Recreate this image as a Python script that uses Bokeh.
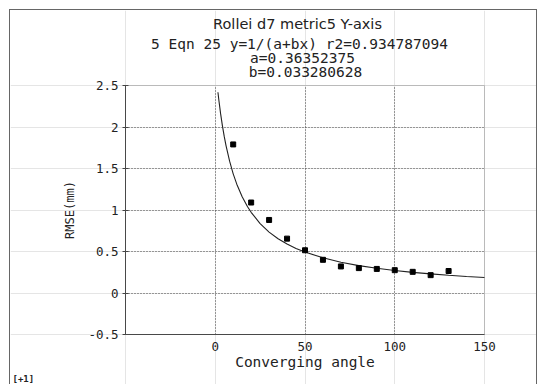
from bokeh.plotting import figure
from bokeh.models import Label, FixedTicker, Range1d, LinearAxis, Grid, BoxAnnotation
from bokeh.embed import file_html
from bokeh.resources import INLINE

# ---- data ----
angle = [10, 20, 30, 40, 50, 60, 70, 80, 90, 100, 110, 120, 130]
rmse = [1.79, 1.09, 0.88, 0.655, 0.515, 0.40, 0.32, 0.30, 0.29, 0.275, 0.255, 0.215, 0.265]

# fitted curve y=1/(a+bx)
fit_x = [1.5, 2, 3, 4, 5, 6, 8, 10, 12, 15, 18, 20, 25, 30, 35, 40, 45, 50,
         60, 70, 80, 90, 100, 110, 120, 130, 140, 150]
fit_y = [2.419, 2.325, 2.158, 2.014, 1.887, 1.776, 1.588, 1.436, 1.311, 1.159,
         1.039, 0.972, 0.836, 0.734, 0.654, 0.590, 0.537, 0.493, 0.424, 0.371,
         0.330, 0.298, 0.271, 0.248, 0.230, 0.213, 0.199, 0.187]

x_ticks = [0, 50, 100, 150]
x_tick_labels = ["0", "50", "100", "150"]
y_ticks = [-0.5, 0, 0.5, 1, 1.5, 2, 2.5]
y_tick_labels = ["-0.5", "0", "0.5", "1", "1.5", "2", "2.5"]

title_lines = [
    "Rollei d7 metric5 Y-axis",
    "5 Eqn 25 y=1/(a+bx) r2=0.934787094",
    "a=0.36352375",
    "b=0.033280628",
]
x_label = "Converging angle"
y_label = "RMSE(mm)"
corner_note = "[+1]"

# ---- layout ----
SANS = "DejaVu Sans"
MONO = "DejaVu Sans Mono"
INK = "#222222"
LINE = "#444444"
X0, X1 = -50, 150          # plotted data box
Y0, Y1 = -0.5, 2.5
OFF_X, OFF_Y = 10, 10      # figure offset on the page
W, H = 526, 374
PL, PR, PT, PB = 125, 484, 85, 334   # data box edges on the page (px)
kx = (X1 - X0) / (PR - PL)
ky = (Y1 - Y0) / (PB - PT)
XA = X0 - (PL - OFF_X) * kx
XB = X1 + (OFF_X + W - PR) * kx
YB = Y1 + (PT - OFF_Y) * ky
YA = Y0 - (OFF_Y + H - PB) * ky


def dx(px):  # page pixel x -> data x
    return X0 + (px - PL) * kx


def dy(py):  # page pixel y -> data y
    return Y1 - (py - PT) * ky


p = figure(width=W, height=H, x_range=Range1d(XA, XB), y_range=Range1d(YA, YB),
           x_axis_location=None, y_axis_location=None,
           output_backend="svg", toolbar_location=None, min_border=0,
           margin=(OFF_Y, 0, 0, OFF_X))
p.styles = {"outline": "1px solid #666666"}
p.background_fill_color = "white"
p.border_fill_color = "white"
p.outline_line_color = None

# grid, limited to the data box
xg = Grid(dimension=0, ticker=FixedTicker(ticks=[t for t in x_ticks if X0 < t < X1]),
          bounds=(X0, X1), cross_bounds=(Y0, Y1))
yg = Grid(dimension=1, ticker=FixedTicker(ticks=[t for t in y_ticks if Y0 < t < Y1]),
          bounds=(Y0, Y1), cross_bounds=(X0, X1))
for g in (xg, yg):
    g.grid_line_color = LINE
    g.grid_line_dash = "1 2"
    g.grid_line_width = 1
    p.add_layout(g)

# data box outline
p.add_layout(BoxAnnotation(left=X0, right=X1, bottom=Y0, top=Y1,
                           fill_color=None, line_color="#555555", line_width=1))

# axes fixed on the data box edges
yax = LinearAxis(fixed_location=X0, bounds=(Y0, Y1),
                 ticker=FixedTicker(ticks=y_ticks))
yax.major_label_overrides = {t: s for t, s in zip(y_ticks, y_tick_labels)}
yax.major_tick_in = 3
yax.major_tick_out = 3
yax.major_label_standoff = 4
yax.axis_label = y_label
yax.axis_label_text_font_size = "12px"
yax.axis_label_standoff = 8

xax = LinearAxis(fixed_location=Y0, bounds=(X0, X1),
                 ticker=FixedTicker(ticks=x_ticks))
xax.major_label_overrides = {t: s for t, s in zip(x_ticks, x_tick_labels)}
xax.major_tick_in = 0
xax.major_tick_out = 0
xax.major_label_standoff = 7
xax.axis_label = x_label
xax.axis_label_text_font_size = "14.5px"
xax.axis_label_standoff = 0

for ax in (xax, yax):
    ax.axis_line_color = LINE
    ax.major_tick_line_color = LINE
    ax.minor_tick_line_color = None
    ax.major_label_text_font = MONO
    ax.major_label_text_font_size = "12.5px"
    ax.major_label_text_color = INK
    ax.axis_label_text_font = MONO
    ax.axis_label_text_font_style = "normal"
    ax.axis_label_text_color = INK
p.add_layout(yax, "left")
p.add_layout(xax, "below")

# data
p.line(fit_x, fit_y, line_color=INK, line_width=1.1)
p.scatter(angle, rmse, marker="square", size=5, color="black")

# title lines (page positions of their centres)
title_cx = [297, 299, 302, 305]
title_cy = [23, 43, 57.5, 71.5]
title_font = [SANS, MONO, MONO, MONO]
for txt, cx, cy, fnt in zip(title_lines, title_cx, title_cy, title_font):
    p.add_layout(Label(x=dx(cx), y=dy(cy), text=txt, text_align="center",
                       text_baseline="middle", text_font=fnt,
                       text_font_size="14.5px", text_color=INK))

p.add_layout(Label(x=dx(12), y=dy(378), text=corner_note, text_align="left",
                   text_baseline="middle", text_font=MONO,
                   text_font_size="9px", text_font_style="bold", text_color=INK))

open("out.html", "w").write(file_html(p, INLINE))
